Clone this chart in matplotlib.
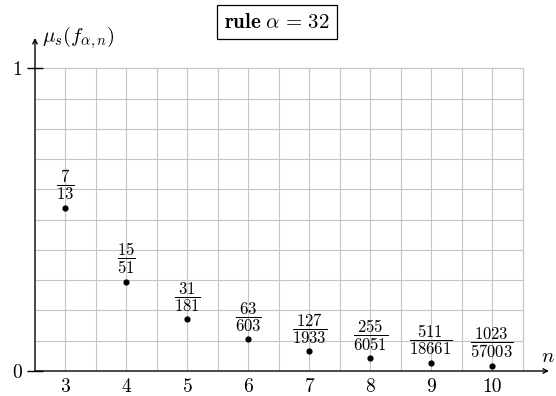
import matplotlib

matplotlib.use("Agg")
import matplotlib.pyplot as plt
import numpy as np

plt.rcParams["font.family"] = "serif"
plt.rcParams["font.serif"] = ["cmr10", "DejaVu Serif"]
plt.rcParams["mathtext.fontset"] = "cm"
plt.rcParams["axes.unicode_minus"] = False
plt.rcParams["axes.formatter.use_mathtext"] = True

# mu_s(f_{alpha,n}) for rule alpha = 32, as exact fractions
n_vals = [3, 4, 5, 6, 7, 8, 9, 10]
numerators = [7, 15, 31, 63, 127, 255, 511, 1023]
denominators = [13, 51, 181, 603, 1933, 6051, 18661, 57003]
mu = [p / q for p, q in zip(numerators, denominators)]

x_grid = np.arange(3.0, 10.51, 0.5)
y_grid = np.arange(0.1, 1.01, 0.1)

fig = plt.figure(figsize=(5.56, 3.96), dpi=100)
ax = fig.add_axes([35 / 556, 25 / 396, 514 / 556, 333 / 396])
ax.set_xlim(2.5, 10.93)
ax.set_ylim(0, 1.1)
for s in ax.spines.values():
    s.set_visible(False)

# grid over the plotting rectangle only
ax.vlines(x_grid, 0, 1.0, color="#c4c4c4", lw=0.8, zorder=1)
ax.hlines(y_grid, 2.5, 10.5, color="#c4c4c4", lw=0.8, zorder=1)

# arrowed axes
arrow = dict(arrowstyle="->", lw=1.0, color="black", shrinkA=0, shrinkB=0,
             mutation_scale=8)
ax.annotate("", xy=(10.93, 0), xytext=(2.5, 0), arrowprops=arrow, zorder=3)
ax.annotate("", xy=(2.5, 1.1), xytext=(2.5, 0), arrowprops=arrow, zorder=3)

ax.set_xticks(n_vals)
ax.set_xticklabels([str(v) for v in n_vals], fontsize=14)
ax.tick_params(axis="x", length=0, pad=5)
ax.set_yticks([0, 1])
ax.set_yticklabels(["0", "1"], fontsize=14)
ax.tick_params(axis="y", direction="inout", length=11, width=1.0, pad=4)

ax.scatter(n_vals, mu, s=12, color="black", zorder=4)
for x, y, p, q in zip(n_vals, mu, numerators, denominators):
    ax.annotate(rf"$\dfrac{{{p}}}{{{q}}}$", (x, y), xytext=(0, 4),
                textcoords="offset points", ha="center", va="bottom",
                fontsize=12, zorder=5)

ax.annotate(r"$\mu_s(f_{\alpha,n})$", (2.5, 1.1), xytext=(5, 0),
            textcoords="offset points", ha="left", va="center", fontsize=15)
ax.annotate(r"$n$", (10.93, 0), xytext=(-1, 10),
            textcoords="offset points", ha="center", va="center", fontsize=15)

fig.text(277 / 556, 1 - 22 / 396, r"$\mathbf{rule}\;\alpha\,=\,32$",
         ha="center", va="center", fontsize=15,
         bbox=dict(boxstyle="square,pad=0.35", facecolor="white",
                   edgecolor="black", lw=0.9))

fig.savefig("out.png", dpi=100)
